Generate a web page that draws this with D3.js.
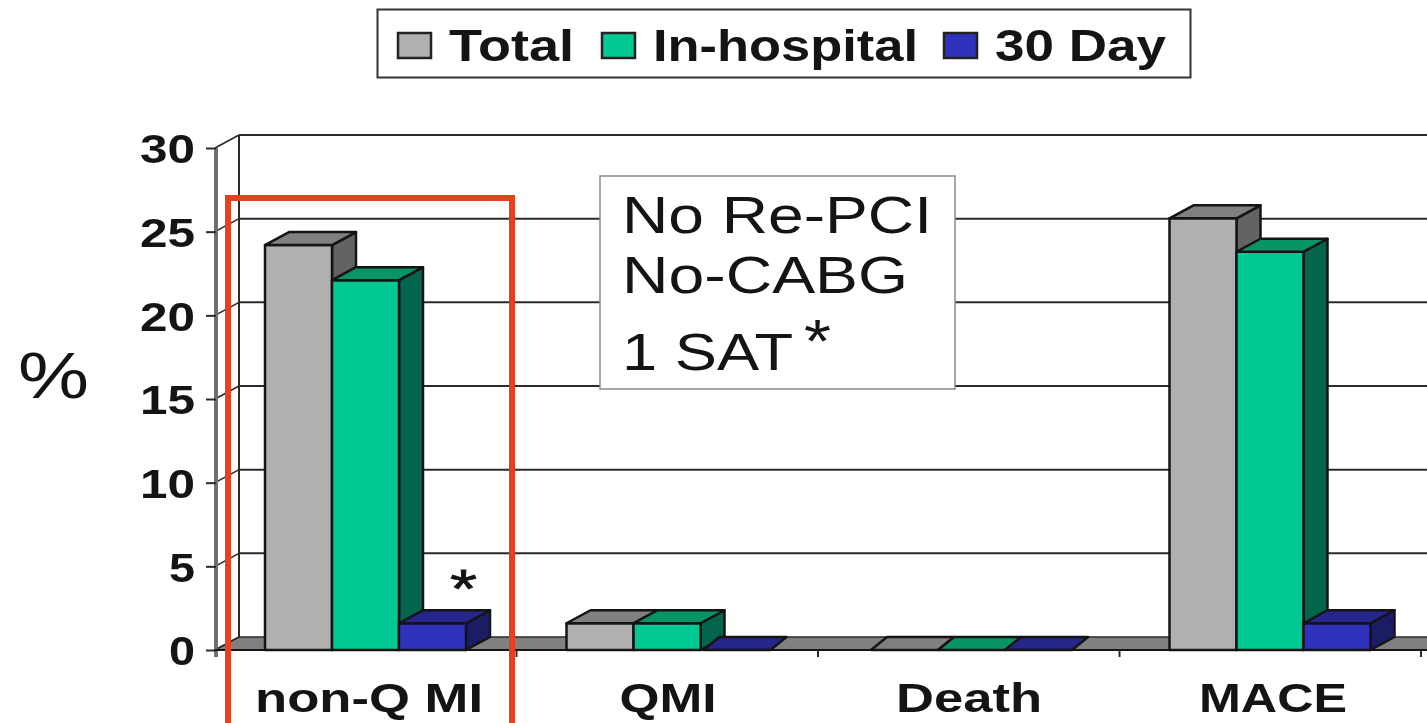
<!DOCTYPE html>
<html><head><meta charset="utf-8">
<style>html,body{margin:0;padding:0;background:#fff;overflow:hidden}svg{display:block;filter:blur(0.7px)}</style>
<script src="https://cdnjs.cloudflare.com/ajax/libs/d3/7.8.5/d3.min.js"></script>
</head><body><svg id="c" width="1427" height="723"></svg>
<script>
const categories = ["non-Q MI","QMI","Death","MACE"];
const seriesNames = ["Total","In-hospital","30 Day"];
const total = [24.2,1.6,0,25.8];
const inHospital = [22.1,1.6,0,23.8];
const thirtyDay = [1.6,0,0,1.6];
const yTicks = [0,5,10,15,20,25,30];
const noteLines = ["No Re-PCI","No-CABG","1 SAT"];

const seriesValues = [total,inHospital,thirtyDay];
const palette = [
  {front:"#b0b0b0",top:"#808080",side:"#636363"},
  {front:"#00c994",top:"#079467",side:"#03654c"},
  {front:"#2f32bd",top:"#24268a",side:"#1b1c63"}
];
const DX=24, DY=-13, FLAT_DX=16, FONT='"Liberation Sans",Arial,sans-serif', INK="#141414";
const svg=d3.select("#c");
const x=d3.scaleBand().domain(categories).range([215,1421]);
const xs=d3.scaleBand().domain(seriesNames).range([50,251]);
const y=d3.scaleLinear().domain([0,30]).range([650,148]);

function txt(g,s,xp,yp,size,w,bold,anchor){
  return g.append("text").text(s).attr("x",xp).attr("y",yp).attr("font-family",FONT)
    .attr("font-size",size).attr("font-weight",bold?700:400).attr("fill",INK)
    .attr("text-anchor",anchor||"start").attr("textLength",w).attr("lengthAdjust","spacingAndGlyphs");
}

// back wall gridlines and wall edge
const grid=svg.append("g");
grid.selectAll("line.g").data(yTicks.slice(1)).join("line").attr("class","g")
  .attr("x1",215+DX).attr("x2",1427).attr("y1",d=>y(d)+DY).attr("y2",d=>y(d)+DY)
  .attr("stroke","#2a2a2a").attr("stroke-width",2);
grid.selectAll("line.d").data(yTicks).join("line").attr("class","d")
  .attr("x1",215).attr("x2",215+DX).attr("y1",d=>y(d)).attr("y2",d=>y(d)+DY)
  .attr("stroke","#2a2a2a").attr("stroke-width",1.6);
grid.append("line").attr("x1",215+DX).attr("x2",215+DX).attr("y1",y(30)+DY).attr("y2",y(0)+DY)
  .attr("stroke","#2a2a2a").attr("stroke-width",2);

// floor
svg.append("path").attr("d",d3.line()([[215,y(0)],[215+DX,y(0)+DY],[1440,y(0)+DY],[1440,y(0)]])+"Z")
  .attr("fill","#808080").attr("stroke","#2a2a2a").attr("stroke-width",1.6);

// y axis
const yAxis=d3.axisLeft(y).tickValues(yTicks).tickSize(10).tickPadding(0).tickFormat(d3.format("d"));
const ya=svg.append("g").attr("transform","translate(216,0)").call(yAxis);
ya.select(".domain").attr("d","M0,"+y(30)+"V"+(y(0)+7)).attr("stroke","#707070").attr("stroke-width",4);
ya.selectAll(".tick line").attr("stroke","#2a2a2a").attr("stroke-width",2);
ya.selectAll(".tick text").attr("x",-21).attr("dy","0.36em").attr("font-family",FONT)
  .attr("font-size",41).attr("font-weight",700).attr("fill",INK)
  .attr("textLength",d=>d<10?26:55).attr("lengthAdjust","spacingAndGlyphs");

// bars
const bars=svg.append("g");
categories.forEach((c,ci)=>{
  seriesNames.forEach((s,si)=>{
    const v=seriesValues[si][ci], x0=x(c)+xs(s), x1=x0+xs.bandwidth(), yT=y(v), yB=y(0), p=palette[si];
    const g=bars.append("g").attr("stroke",INK).attr("stroke-width",2.5).attr("stroke-linejoin","round");
    if(v>0){
      g.append("path").attr("fill",p.side).attr("d",d3.line()([[x1,yT],[x1+DX,yT+DY],[x1+DX,yB+DY],[x1,yB]])+"Z");
      g.append("rect").attr("x",x0).attr("y",yT).attr("width",x1-x0).attr("height",yB-yT).attr("fill",p.front);
      g.append("path").attr("fill",p.top).attr("d",d3.line()([[x0,yT],[x0+DX,yT+DY],[x1+DX,yT+DY],[x1,yT]])+"Z");
    } else {
      g.append("path").attr("fill",p.top).attr("d",d3.line()([[x0+3,yT],[x0+3+FLAT_DX,yT+DY],[x1+3+FLAT_DX,yT+DY],[x1+3,yT]])+"Z");
    }
  });
});
svg.append("line").attr("x1",215).attr("x2",1427).attr("y1",y(0)).attr("y2",y(0)).attr("stroke",INK).attr("stroke-width",2);

// x axis ticks
const xTickPos=categories.map(c=>x(c)+x.bandwidth());
svg.append("g").selectAll("line").data(xTickPos).join("line")
  .attr("x1",d=>d).attr("x2",d=>d).attr("y1",y(0)).attr("y2",y(0)+7).attr("stroke","#2a2a2a").attr("stroke-width",2);
const catW=[228,97,146,148], catC=[369,668,969,1273];
categories.forEach((c,i)=>txt(svg,c,catC[i],712,40,catW[i],true,"middle"));

// note box
svg.append("rect").attr("x",600).attr("y",176).attr("width",355).attr("height",213)
  .attr("fill","#fff").attr("stroke","#8a8a8a").attr("stroke-width",1.5);
const noteY=[233,293,370], noteW=[310,286,171];
noteLines.forEach((t,i)=>txt(svg,t,622,noteY[i],52,noteW[i],false));
txt(svg,"*",804,362,62,27,false);

// asterisk over the 30 Day bar and % label
txt(svg,"*",450,607,54,27,false).attr("stroke",INK).attr("stroke-width",0.8);
txt(svg,"%",18,398,64,71,false);

// red highlight
svg.append("path").attr("d","M228,730V198H512V730").attr("fill","none").attr("stroke","#e8401c").attr("stroke-width",6);

// legend
svg.append("rect").attr("x",377.5).attr("y",9.5).attr("width",813).attr("height",68)
  .attr("fill","#fff").attr("stroke","#333").attr("stroke-width",2);
const legX=[398,602,944], legTx=[449,653,995], legW=[125,265,171];
seriesNames.forEach((s,i)=>{
  svg.append("rect").attr("x",legX[i]).attr("y",33).attr("width",33).attr("height",25)
    .attr("fill",palette[i].front).attr("stroke","#222").attr("stroke-width",2.5);
  txt(svg,s,legTx[i],61,44,legW[i],true);
});
</script></body></html>
